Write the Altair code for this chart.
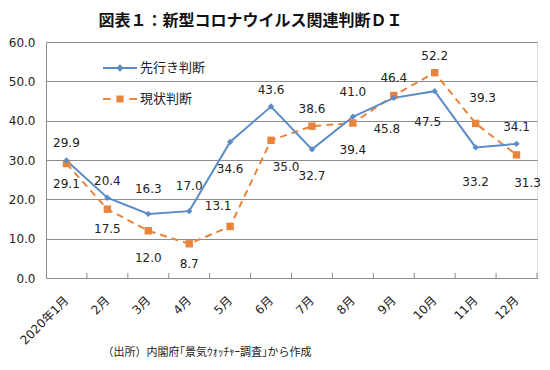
import altair as alt
import pandas as pd

# ---- data ----
months = ["2020年1月", "2月", "3月", "4月", "5月", "6月", "7月", "8月", "9月", "10月", "11月", "12月"]
series_names = ["先行き判断", "現状判断"]
outlook = [29.9, 20.4, 16.3, 17.0, 34.6, 43.6, 32.7, 41.0, 45.8, 47.5, 33.2, 34.1]
current = [29.1, 17.5, 12.0, 8.7, 13.1, 35.0, 38.6, 39.4, 46.4, 52.2, 39.3, 31.3]
# which side of its point each value label sits on
outlook_label_side = ["N", "N", "NN", "NN", "SS", "N", "SS", "NN", "SW", "SW", "SSS", "N"]
current_label_side = ["S", "S", "SS", "S", "NW", "SEE", "N", "SS", "N", "N", "NE", "SE"]
y_ticks = [0, 10, 20, 30, 40, 50, 60]
title_text = "図表１：新型コロナウイルス関連判断ＤＩ"
source_text = "（出所）内閣府｢景気ｳｫｯﾁｬｰ調査｣から作成"

# ---- styles ----
BLUE = "#5B8CC8"
ORANGE = "#E8843C"
GRID = "#8C8C8C"
NUM_FONT = "DejaVu Sans"
JP_FONT = "Noto Sans CJK JP"
SIDE_OFFSETS = {
    "N": (0, -17), "NN": (0, -25), "S": (0, 20), "SS": (0, 27), "SSS": (0, 35),
    "SW": (-7, 31), "NW": (-12, -20), "SE": (11, 28), "SEE": (15, 27), "NE": (7, -25),
}

rows = []
for name, vals, sides in [(series_names[0], outlook, outlook_label_side),
                          (series_names[1], current, current_label_side)]:
    for m, v, s in zip(months, vals, sides):
        rows.append({"month": m, "series": name, "value": v, "side": s})
df = pd.DataFrame(rows)

W, H = 491, 236

xscale = alt.Scale(type="band", domain=months, paddingInner=0, paddingOuter=0)
yscale = alt.Scale(domain=[0, 60], nice=False)

x_axis = alt.Axis(
    title=source_text, titleFont=JP_FONT, titleFontSize=11, titleFontWeight="normal",
    titleColor="#222222", titleAlign="left", titleBaseline="middle",
    titleX=56, titleY=74, titleAnchor="start",
    labelAngle=-45, labelAlign="right", labelBaseline="middle",
    labelFont=NUM_FONT + ", " + JP_FONT, labelFontSize=12, labelColor="#222222",
    labelPadding=20, ticks=False, domainColor=GRID, domainWidth=1, grid=False,
)
y_axis = alt.Axis(
    title=None, values=y_ticks, format=".1f", grid=True, gridColor=GRID, gridWidth=1,
    gridOpacity=1, domain=True, domainColor=GRID, ticks=False, labelPadding=11,
    labelFont=NUM_FONT, labelFontSize=12, labelColor="#222222",
)

def X(pos=0.5):
    return alt.X("month:N", scale=xscale, bandPosition=pos, axis=x_axis)

yv = alt.Y("value:Q", scale=yscale, axis=y_axis)

base = alt.Chart(df)

# inward ticks at the band edges of the category axis
ticks = base.transform_filter(alt.datum.series == series_names[0]).mark_rule(
    color=GRID, strokeWidth=1
).encode(x=X(1.0), y=alt.Y(datum=0, scale=yscale, axis=y_axis), y2=alt.datum(1.3))

blue_d = base.transform_filter(alt.datum.series == series_names[0])
orange_d = base.transform_filter(alt.datum.series == series_names[1])

blue_line = blue_d.mark_line(color=BLUE, strokeWidth=2).encode(x=X(), y=yv)
blue_pts = blue_d.mark_point(shape="diamond", filled=True, color=BLUE, size=40, opacity=1).encode(x=X(), y=yv)
orange_line = orange_d.mark_line(color=ORANGE, strokeWidth=2, strokeDash=[7, 5]).encode(x=X(), y=yv)
orange_pts = orange_d.mark_point(shape="square", filled=True, color=ORANGE, size=55, opacity=1).encode(x=X(), y=yv)

labels = []
for code, (dx, dy) in SIDE_OFFSETS.items():
    labels.append(
        base.transform_filter(alt.datum.side == code).mark_text(
            dx=dx, dy=dy, font=NUM_FONT, fontSize=12, color="#222222", baseline="middle", align="center"
        ).encode(x=X(), y=yv, text=alt.Text("value:Q", format=".1f"))
    )

# legend (line + marker symbols as custom paths)
PATH_BLUE = ("M-1,-0.06L1,-0.06L1,0.06L-1,0.06Z "
             "M0,-0.22L0.22,0L0,0.22L-0.22,0Z")
PATH_ORANGE = ("M-1,-0.06L-0.55,-0.06L-0.55,0.06L-1,0.06Z "
               "M-0.21,-0.21L0.21,-0.21L0.21,0.21L-0.21,0.21Z "
               "M0.55,-0.06L1,-0.06L1,0.06L0.55,0.06Z")
leg = alt.Legend(
    title=None, orient="none", legendX=57, legendY=9, symbolSize=34 * 34,
    symbolStrokeWidth=0, labelFont=JP_FONT, labelFontSize=13, labelColor="#222222",
    labelOffset=3, rowPadding=7, padding=0, symbolOpacity=1,
)
legend_layer = base.transform_filter("false").mark_point(filled=True, opacity=1).encode(
    color=alt.Color("series:N", scale=alt.Scale(domain=series_names, range=[BLUE, ORANGE]), legend=leg),
    shape=alt.Shape("series:N", scale=alt.Scale(domain=series_names, range=[PATH_BLUE, PATH_ORANGE]), legend=leg),
)

chart = alt.layer(
    ticks, orange_line, blue_line, orange_pts, blue_pts, *labels, legend_layer
).properties(
    width=W, height=H,
    title=alt.Title(title_text, font=JP_FONT, fontSize=16, fontWeight="bold", color="#111111",
                    anchor="middle", dx=-41, offset=7),
    padding={"left": 0, "top": 5, "right": 0, "bottom": 0},
).configure_view(stroke=None).configure(background="white")

chart.save("out.html", embed_options={"renderer": "svg", "actions": False})
